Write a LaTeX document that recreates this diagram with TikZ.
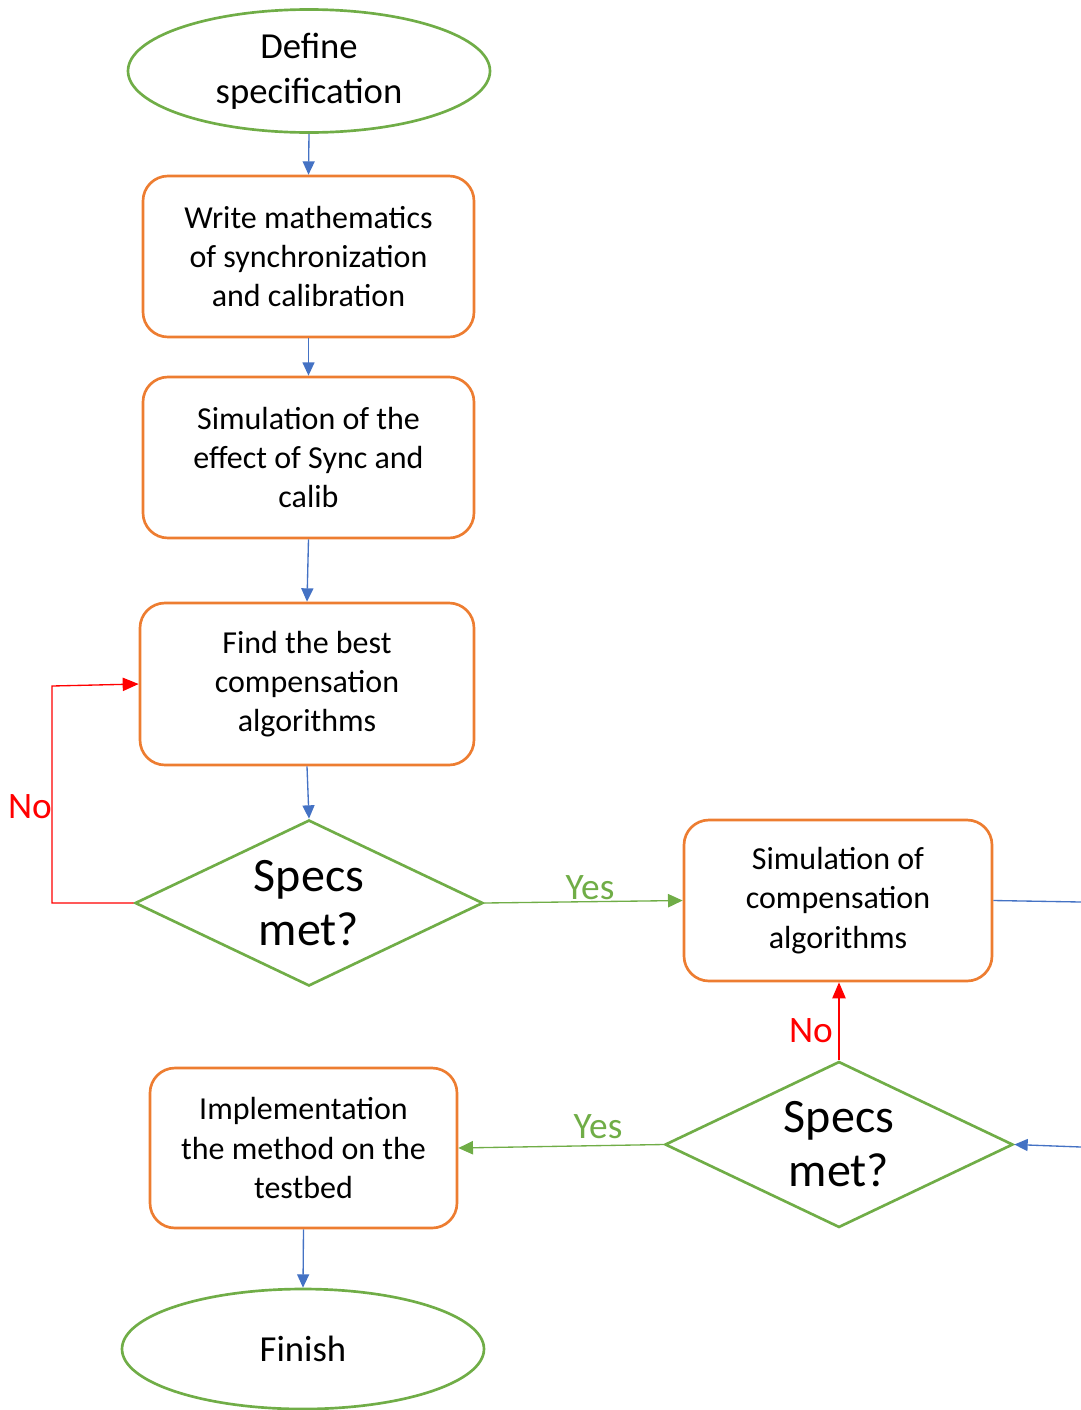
\documentclass[tikz,border=0pt]{standalone}
\usepackage{fontspec}
\setmainfont{Carlito}
\usetikzlibrary{shapes.geometric,arrows.meta}
\newdimen\pxu \pxu=0.75pt
\definecolor{cgreen}{HTML}{70AD47}
\definecolor{corange}{HTML}{ED7D31}
\definecolor{cblue}{HTML}{4472C4}
\definecolor{cred}{HTML}{FF0000}
\tikzset{
  term/.style={ellipse, draw=cgreen, line width=2pt, inner sep=0pt, align=center,
    font=\fontsize{27.5}{34}\selectfont},
  procbox/.style={rectangle, rounded corners=25\pxu, draw=corange, line width=2pt, inner sep=0pt,
    align=center, font=\fontsize{24}{29.5}\selectfont},
  decision/.style={diamond, draw=cgreen, line width=2pt, inner sep=0pt, aspect=2.1,
    align=center, font=\fontsize{36}{40.5}\selectfont, minimum width=348\pxu, minimum height=166\pxu},
  flow/.style={draw=cblue, line width=1pt, -{Triangle[length=10pt,width=9pt]}},
  noflow/.style={draw=cred, line width=1pt, -{Triangle[length=12pt,width=10pt]}},
  yesflow/.style={draw=cgreen, line width=1pt, -{Triangle[length=11pt,width=10pt]}},
  nolabel/.style={text=cred, font=\fontsize{28}{32}\selectfont},
  yeslabel/.style={text=cgreen, font=\fontsize{28}{32}\selectfont},
}
\begin{document}
\begin{tikzpicture}[x=0.75pt,y=-0.75pt]
\useasboundingbox (0,0) rectangle (1081,1410);
\node[term, minimum width=362\pxu, minimum height=123\pxu] (start) at (309,71) {Define\\specification};
\node[procbox, minimum width=331\pxu, minimum height=161\pxu] (b1) at (308.5,256.5) {Write mathematics\\of synchronization\\and calibration};
\node[procbox, minimum width=331\pxu, minimum height=161\pxu] (b2) at (308.5,457.5) {Simulation of the\\effect of Sync and\\calib};
\node[procbox, minimum width=334\pxu, minimum height=162\pxu] (b3) at (307,684) {Find the best\\compensation\\algorithms};
\node[decision] (d1) at (309,903) {Specs\\met?};
\node[procbox, minimum width=308\pxu, minimum height=161\pxu] (b4) at (838,900.5) {Simulation of\\compensation\\algorithms};
\node[decision] (d2) at (839,1144.5) {Specs\\met?};
\node[procbox, minimum width=307\pxu, minimum height=160\pxu] (b5) at (303.5,1148) {Implementation\\the method on the\\testbed};
\node[term, minimum width=362\pxu, minimum height=120\pxu] (finish) at (303,1349) {Finish};
\coordinate (r1) at (1081,902);
\coordinate (r2) at (1081,1147);
\coordinate (l1) at (52,903);
\coordinate (l2) at (52,686);

\draw[flow] (start.south) -- (b1.north);
\draw[flow] (b1.south) -- (b2.north);
\draw[flow] (b2.south) -- (b3.north -| 307,0);
\draw[flow] (b3.south) -- (d1.north);
\draw[noflow] (d1.west) -- (l1) -- (l2) -- (b3.west);
\node[nolabel] (no1) at (30,807) {No};
\draw[yesflow] (d1.east) -- (b4.west);
\node[yeslabel] (yes1) at (590,888) {Yes};
\draw[cblue, line width=1pt] (b4.east) -- (r1);
\draw[flow] (r2) -- (d2.east);
\draw[noflow] (d2.north) -- (b4.south -| d2.north);
\node[nolabel] (no2) at (811,1031) {No};
\draw[yesflow] (d2.west) -- (b5.east);
\node[yeslabel] (yes2) at (598,1127) {Yes};
\draw[flow] (b5.south) -- (finish.north);
\end{tikzpicture}
\end{document}
